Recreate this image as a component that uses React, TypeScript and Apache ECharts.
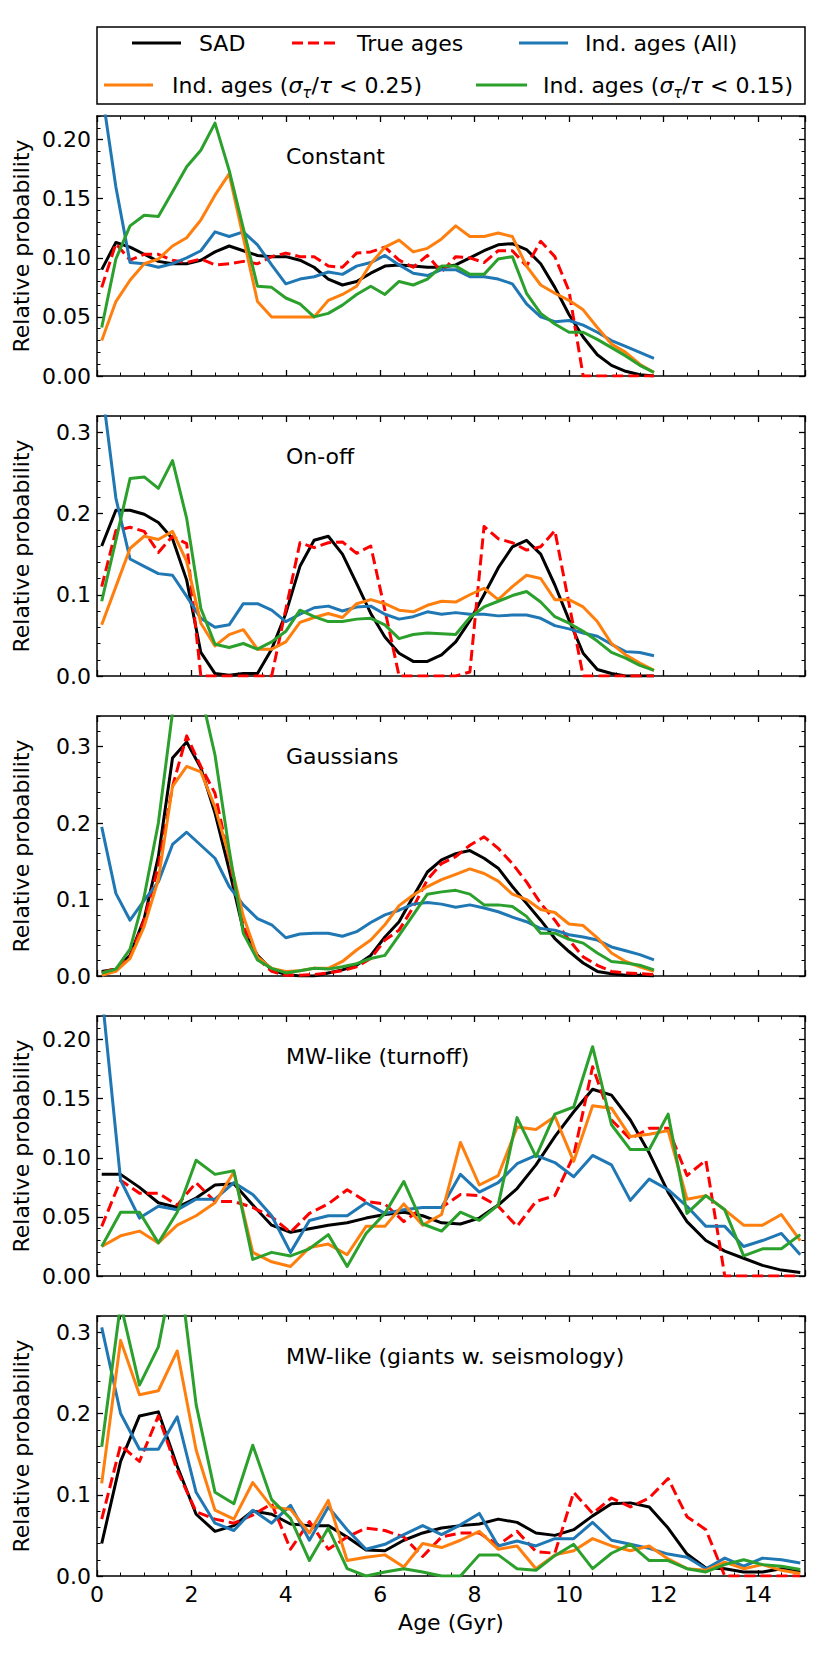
import React, { useEffect, useRef } from 'react';
import * as echarts from 'echarts';

const FONT = 'DejaVu Sans';

// Age grids (Gyr)
const AGE_SHORT = [0.1, 0.4, 0.7, 1.0, 1.3, 1.6, 1.9, 2.2, 2.5, 2.8, 3.1, 3.4, 3.7, 4.0, 4.3, 4.6, 4.9, 5.2, 5.5, 5.8, 6.1, 6.4, 6.7, 7.0, 7.3, 7.6, 7.9, 8.2, 8.5, 8.8, 9.1, 9.4, 9.7, 10.0, 10.3, 10.6, 10.9, 11.2, 11.5, 11.8];
const AGE_LONG = [0.1, 0.5, 0.9, 1.3, 1.7, 2.1, 2.5, 2.9, 3.3, 3.7, 4.1, 4.5, 4.9, 5.3, 5.7, 6.1, 6.5, 6.9, 7.3, 7.7, 8.1, 8.5, 8.9, 9.3, 9.7, 10.1, 10.5, 10.9, 11.3, 11.7, 12.1, 12.5, 12.9, 13.3, 13.7, 14.1, 14.5, 14.9];

// Panel 1: Constant
const SAD_1 = [0.090, 0.113, 0.109, 0.103, 0.097, 0.095, 0.095, 0.098, 0.105, 0.110, 0.106, 0.102, 0.101, 0.101, 0.098, 0.092, 0.082, 0.077, 0.080, 0.087, 0.093, 0.094, 0.093, 0.092, 0.092, 0.094, 0.100, 0.106, 0.111, 0.112, 0.107, 0.095, 0.075, 0.052, 0.033, 0.018, 0.009, 0.004, 0.001, 0.000];
const TRUE_1 = [0.075, 0.112, 0.098, 0.103, 0.103, 0.098, 0.096, 0.099, 0.094, 0.095, 0.097, 0.095, 0.101, 0.104, 0.101, 0.101, 0.093, 0.092, 0.104, 0.105, 0.109, 0.098, 0.092, 0.102, 0.088, 0.101, 0.100, 0.096, 0.106, 0.106, 0.093, 0.114, 0.101, 0.072, 0.000, 0.000, 0.000, 0.000, 0.000, 0.000];
const ALL_1 = [0.242, 0.160, 0.096, 0.095, 0.092, 0.095, 0.100, 0.106, 0.122, 0.118, 0.122, 0.111, 0.094, 0.078, 0.082, 0.084, 0.088, 0.086, 0.093, 0.096, 0.102, 0.094, 0.087, 0.085, 0.090, 0.090, 0.084, 0.084, 0.082, 0.078, 0.061, 0.050, 0.046, 0.047, 0.043, 0.037, 0.030, 0.025, 0.020, 0.015];
const Q25_1 = [0.030, 0.063, 0.081, 0.095, 0.099, 0.110, 0.117, 0.132, 0.153, 0.171, 0.117, 0.063, 0.050, 0.050, 0.050, 0.050, 0.064, 0.069, 0.076, 0.095, 0.109, 0.115, 0.105, 0.108, 0.116, 0.127, 0.118, 0.118, 0.121, 0.118, 0.093, 0.077, 0.070, 0.064, 0.056, 0.041, 0.027, 0.020, 0.010, 0.003];
const Q15_1 = [0.041, 0.099, 0.127, 0.136, 0.135, 0.156, 0.177, 0.191, 0.214, 0.174, 0.125, 0.076, 0.075, 0.066, 0.061, 0.050, 0.053, 0.060, 0.069, 0.076, 0.069, 0.080, 0.077, 0.082, 0.093, 0.093, 0.086, 0.086, 0.099, 0.101, 0.070, 0.053, 0.044, 0.037, 0.037, 0.031, 0.024, 0.017, 0.009, 0.003];

// Panel 2: On-off
const SAD_2 = [0.160, 0.204, 0.204, 0.199, 0.189, 0.169, 0.118, 0.029, 0.003, 0.001, 0.003, 0.003, 0.033, 0.077, 0.135, 0.167, 0.172, 0.150, 0.114, 0.077, 0.048, 0.028, 0.018, 0.018, 0.026, 0.042, 0.068, 0.100, 0.133, 0.159, 0.167, 0.150, 0.112, 0.069, 0.028, 0.008, 0.003, 0.000, 0.000, 0.000];
const TRUE_2 = [0.110, 0.179, 0.183, 0.178, 0.152, 0.172, 0.163, 0.000, 0.000, 0.000, 0.000, 0.000, 0.000, 0.082, 0.164, 0.158, 0.164, 0.165, 0.151, 0.160, 0.081, 0.000, 0.000, 0.000, 0.000, 0.000, 0.005, 0.184, 0.169, 0.164, 0.155, 0.159, 0.179, 0.089, 0.000, 0.000, 0.000, 0.000, 0.000, 0.000];
const ALL_2 = [0.357, 0.219, 0.144, 0.135, 0.126, 0.124, 0.098, 0.071, 0.060, 0.063, 0.089, 0.089, 0.081, 0.067, 0.076, 0.084, 0.086, 0.080, 0.085, 0.086, 0.076, 0.070, 0.073, 0.079, 0.076, 0.078, 0.076, 0.076, 0.074, 0.075, 0.075, 0.071, 0.062, 0.058, 0.053, 0.049, 0.039, 0.030, 0.029, 0.025];
const Q25_2 = [0.063, 0.110, 0.157, 0.172, 0.168, 0.178, 0.141, 0.065, 0.037, 0.051, 0.057, 0.033, 0.033, 0.042, 0.066, 0.072, 0.077, 0.072, 0.089, 0.094, 0.089, 0.081, 0.079, 0.087, 0.092, 0.091, 0.100, 0.108, 0.094, 0.110, 0.124, 0.120, 0.094, 0.094, 0.085, 0.067, 0.040, 0.026, 0.016, 0.007];
const Q15_2 = [0.092, 0.167, 0.243, 0.245, 0.231, 0.265, 0.194, 0.083, 0.039, 0.035, 0.040, 0.033, 0.042, 0.055, 0.081, 0.073, 0.067, 0.067, 0.070, 0.071, 0.063, 0.046, 0.051, 0.053, 0.052, 0.051, 0.072, 0.085, 0.092, 0.099, 0.104, 0.091, 0.073, 0.065, 0.055, 0.043, 0.029, 0.022, 0.013, 0.007];

// Panel 3: Gaussians
const SAD_3 = [0.006, 0.009, 0.027, 0.075, 0.156, 0.285, 0.306, 0.272, 0.213, 0.139, 0.060, 0.027, 0.008, 0.002, 0.000, 0.000, 0.004, 0.008, 0.014, 0.027, 0.051, 0.071, 0.104, 0.136, 0.152, 0.160, 0.164, 0.154, 0.141, 0.117, 0.095, 0.073, 0.049, 0.032, 0.017, 0.006, 0.003, 0.001, 0.001, 0.000];
const TRUE_3 = [0.004, 0.010, 0.025, 0.073, 0.143, 0.248, 0.314, 0.274, 0.239, 0.152, 0.065, 0.023, 0.006, 0.001, 0.001, 0.002, 0.004, 0.007, 0.012, 0.023, 0.047, 0.060, 0.090, 0.126, 0.147, 0.156, 0.171, 0.182, 0.167, 0.147, 0.123, 0.095, 0.073, 0.047, 0.025, 0.014, 0.006, 0.004, 0.003, 0.002];
const ALL_3 = [0.195, 0.108, 0.073, 0.099, 0.123, 0.172, 0.188, 0.171, 0.154, 0.117, 0.093, 0.075, 0.067, 0.050, 0.055, 0.056, 0.056, 0.052, 0.058, 0.070, 0.080, 0.086, 0.094, 0.096, 0.094, 0.090, 0.093, 0.089, 0.084, 0.077, 0.071, 0.062, 0.060, 0.054, 0.051, 0.047, 0.038, 0.033, 0.028, 0.021];
const Q25_3 = [0.001, 0.006, 0.023, 0.065, 0.126, 0.248, 0.274, 0.267, 0.221, 0.156, 0.078, 0.025, 0.010, 0.006, 0.007, 0.010, 0.010, 0.019, 0.034, 0.047, 0.067, 0.092, 0.106, 0.117, 0.126, 0.133, 0.140, 0.134, 0.124, 0.107, 0.100, 0.087, 0.083, 0.068, 0.066, 0.050, 0.030, 0.019, 0.012, 0.006];
const Q15_3 = [0.004, 0.009, 0.035, 0.104, 0.200, 0.345, 0.420, 0.370, 0.289, 0.165, 0.056, 0.021, 0.010, 0.004, 0.007, 0.010, 0.009, 0.012, 0.016, 0.023, 0.027, 0.053, 0.080, 0.107, 0.110, 0.112, 0.107, 0.093, 0.093, 0.091, 0.078, 0.056, 0.056, 0.048, 0.043, 0.030, 0.019, 0.017, 0.014, 0.008];

// Panel 4: MW-like (turnoff)
const SAD_4 = [0.086, 0.086, 0.075, 0.062, 0.058, 0.066, 0.077, 0.078, 0.060, 0.043, 0.037, 0.040, 0.043, 0.045, 0.049, 0.052, 0.054, 0.051, 0.045, 0.044, 0.049, 0.060, 0.074, 0.094, 0.118, 0.139, 0.158, 0.153, 0.132, 0.104, 0.071, 0.046, 0.030, 0.021, 0.015, 0.009, 0.005, 0.003];
const TRUE_4 = [0.042, 0.081, 0.070, 0.070, 0.060, 0.079, 0.063, 0.063, 0.058, 0.050, 0.037, 0.053, 0.061, 0.073, 0.063, 0.061, 0.046, 0.058, 0.058, 0.069, 0.068, 0.059, 0.042, 0.063, 0.068, 0.102, 0.177, 0.132, 0.116, 0.125, 0.125, 0.085, 0.098, 0.000, 0.000, 0.000, 0.000, 0.000];
const ALL_4 = [0.240, 0.081, 0.049, 0.059, 0.056, 0.065, 0.065, 0.079, 0.069, 0.051, 0.020, 0.047, 0.051, 0.051, 0.062, 0.053, 0.056, 0.058, 0.058, 0.086, 0.071, 0.079, 0.095, 0.102, 0.096, 0.084, 0.102, 0.094, 0.064, 0.082, 0.073, 0.059, 0.042, 0.042, 0.025, 0.030, 0.036, 0.018];
const Q25_4 = [0.025, 0.034, 0.038, 0.028, 0.043, 0.051, 0.062, 0.088, 0.020, 0.012, 0.008, 0.024, 0.027, 0.018, 0.042, 0.042, 0.061, 0.043, 0.052, 0.113, 0.077, 0.085, 0.126, 0.124, 0.135, 0.097, 0.144, 0.142, 0.118, 0.120, 0.123, 0.065, 0.068, 0.056, 0.043, 0.043, 0.052, 0.030];
const Q15_4 = [0.025, 0.054, 0.054, 0.028, 0.054, 0.098, 0.086, 0.089, 0.014, 0.020, 0.017, 0.023, 0.035, 0.008, 0.036, 0.053, 0.080, 0.044, 0.038, 0.054, 0.047, 0.060, 0.134, 0.101, 0.137, 0.143, 0.194, 0.128, 0.107, 0.107, 0.137, 0.053, 0.068, 0.056, 0.017, 0.023, 0.023, 0.035];

// Panel 5: MW-like (giants w. seismology)
const SAD_5 = [0.040, 0.141, 0.197, 0.202, 0.135, 0.076, 0.055, 0.062, 0.080, 0.076, 0.064, 0.062, 0.062, 0.048, 0.032, 0.031, 0.044, 0.053, 0.059, 0.062, 0.064, 0.070, 0.066, 0.053, 0.050, 0.057, 0.074, 0.089, 0.090, 0.085, 0.059, 0.027, 0.010, 0.009, 0.005, 0.005, 0.009, 0.005];
const TRUE_5 = [0.070, 0.161, 0.141, 0.197, 0.130, 0.079, 0.070, 0.065, 0.075, 0.089, 0.033, 0.067, 0.033, 0.048, 0.059, 0.056, 0.048, 0.024, 0.048, 0.053, 0.053, 0.038, 0.055, 0.030, 0.028, 0.103, 0.077, 0.096, 0.085, 0.096, 0.120, 0.073, 0.057, 0.000, 0.000, 0.000, 0.000, 0.000];
const ALL_5 = [0.306, 0.200, 0.156, 0.156, 0.196, 0.103, 0.065, 0.056, 0.081, 0.065, 0.087, 0.044, 0.085, 0.057, 0.033, 0.039, 0.051, 0.062, 0.051, 0.063, 0.077, 0.037, 0.043, 0.037, 0.046, 0.046, 0.066, 0.044, 0.039, 0.034, 0.027, 0.023, 0.009, 0.022, 0.012, 0.022, 0.020, 0.016];
const Q25_5 = [0.114, 0.290, 0.223, 0.228, 0.277, 0.155, 0.081, 0.070, 0.115, 0.085, 0.082, 0.053, 0.093, 0.019, 0.023, 0.026, 0.011, 0.040, 0.035, 0.044, 0.055, 0.033, 0.037, 0.009, 0.026, 0.031, 0.046, 0.037, 0.031, 0.037, 0.021, 0.009, 0.007, 0.017, 0.009, 0.014, 0.007, 0.003];
const Q15_5 = [0.159, 0.335, 0.235, 0.282, 0.400, 0.211, 0.103, 0.089, 0.161, 0.094, 0.071, 0.019, 0.059, 0.009, 0.000, 0.005, 0.009, 0.005, 0.000, 0.000, 0.026, 0.026, 0.009, 0.007, 0.025, 0.039, 0.009, 0.028, 0.039, 0.019, 0.019, 0.009, 0.005, 0.014, 0.020, 0.014, 0.012, 0.008];

const PANEL_TITLES = ['Constant', 'On-off', 'Gaussians', 'MW-like (turnoff)', 'MW-like (giants w. seismology)'];
const PANEL_AGES = [AGE_SHORT, AGE_SHORT, AGE_SHORT, AGE_LONG, AGE_LONG];
const PANEL_SERIES = [
  [SAD_1, TRUE_1, ALL_1, Q25_1, Q15_1],
  [SAD_2, TRUE_2, ALL_2, Q25_2, Q15_2],
  [SAD_3, TRUE_3, ALL_3, Q25_3, Q15_3],
  [SAD_4, TRUE_4, ALL_4, Q25_4, Q15_4],
  [SAD_5, TRUE_5, ALL_5, Q25_5, Q15_5],
];
const Y_MAX = [0.22, 0.32, 0.34, 0.22, 0.32];
const Y_STEP = [0.05, 0.1, 0.1, 0.05, 0.1];
const Y_MINOR = [0.01, 0.02, 0.02, 0.01, 0.02];
const Y_DECIMALS = [2, 1, 1, 2, 1];
const X_MAX = 15;
const X_STEP = 2;
const X_MINOR = 0.5;

const SERIES_NAMES = ['SAD', 'True ages', 'Ind. ages (All)', 'Ind. ages (σ/τ < 0.25)', 'Ind. ages (σ/τ < 0.15)'];
const SERIES_COLORS = ['#000000', '#ff0000', '#1f77b4', '#ff7f0e', '#2ca02c'];

// layout
const W = 830;
const H = 1661;
const PLOT_LEFT = 97;
const PLOT_W = 708;
const PANEL_TOP0 = 116;
const PANEL_STEP = 300;
const PANEL_H = 260;

export default function App() {
  const ref = useRef<HTMLDivElement>(null);

  useEffect(() => {
    document.body.style.margin = '0';
    if (!ref.current) return;
    const chart = echarts.init(ref.current, null, { renderer: 'svg' });

    const grids: any[] = [];
    const xAxes: any[] = [];
    const yAxes: any[] = [];
    const series: any[] = [];
    const graphics: any[] = [];

    const frameLine = { show: true, onZero: false, lineStyle: { color: '#000', width: 1.5 } };
    const noLine = { show: false, onZero: false };
    const majorTick = { show: true, inside: true, length: 6, lineStyle: { color: '#000', width: 1.3 } };
    const minorTickS = { show: true, inside: true, length: 3.5, lineStyle: { color: '#000', width: 1 } };

    for (let i = 0; i < 5; i++) {
      const top = PANEL_TOP0 + PANEL_STEP * i;
      grids.push({ left: PLOT_LEFT, top, width: PLOT_W, height: PANEL_H, containLabel: false });
      const xb = { gridIndex: i, type: 'value', min: 0, max: X_MAX, splitLine: { show: false } };
      xAxes.push({
        ...xb, position: 'bottom', interval: X_STEP, axisLine: frameLine, axisTick: majorTick,
        axisLabel: { show: i === 4, showMaxLabel: false, fontSize: 22, fontFamily: FONT, color: '#000', margin: 7 },
      });
      xAxes.push({ ...xb, position: 'bottom', interval: X_MINOR, axisLine: noLine, axisTick: minorTickS, axisLabel: { show: false } });
      xAxes.push({ ...xb, position: 'top', interval: X_STEP, axisLine: frameLine, axisTick: majorTick, axisLabel: { show: false } });
      xAxes.push({ ...xb, position: 'top', interval: X_MINOR, axisLine: noLine, axisTick: minorTickS, axisLabel: { show: false } });

      const yb = { gridIndex: i, type: 'value', min: 0, max: Y_MAX[i], splitLine: { show: false } };
      const dec = Y_DECIMALS[i];
      yAxes.push({
        ...yb, position: 'left', interval: Y_STEP[i], axisLine: frameLine, axisTick: majorTick,
        axisLabel: {
          show: true, showMaxLabel: false, fontSize: 22, fontFamily: FONT, color: '#000', margin: 6,
          formatter: (v: number) => v.toFixed(dec),
        },
      });
      yAxes.push({ ...yb, position: 'left', interval: Y_MINOR[i], axisLine: noLine, axisTick: minorTickS, axisLabel: { show: false } });
      yAxes.push({ ...yb, position: 'right', interval: Y_STEP[i], axisLine: frameLine, axisTick: majorTick, axisLabel: { show: false } });
      yAxes.push({ ...yb, position: 'right', interval: Y_MINOR[i], axisLine: noLine, axisTick: minorTickS, axisLabel: { show: false } });

      const ages = PANEL_AGES[i];
      PANEL_SERIES[i].forEach((vals, s) => {
        series.push({
          type: 'line',
          name: SERIES_NAMES[s],
          xAxisIndex: i * 4,
          yAxisIndex: i * 4,
          data: ages.map((a, k) => [a, vals[k]]),
          symbol: 'none',
          showSymbol: false,
          clip: true,
          silent: true,
          animation: false,
          lineStyle: {
            color: SERIES_COLORS[s],
            width: 3,
            type: s === 1 ? [11, 5] : 'solid',
            join: 'round',
          },
          itemStyle: { color: SERIES_COLORS[s] },
          emphasis: { disabled: true },
        });
      });

      // panel title
      graphics.push({
        type: 'text', x: 286, y: top + 40, z: 50,
        style: { text: PANEL_TITLES[i], fontSize: 22, fontFamily: FONT, fill: '#000', align: 'left', verticalAlign: 'middle', textAlign: 'left', textVerticalAlign: 'middle' },
      });
      // y axis title
      graphics.push({
        type: 'text', x: 21, y: top + PANEL_H / 2, rotation: Math.PI / 2, z: 50,
        style: { text: 'Relative probability', fontSize: 22, fontFamily: FONT, fill: '#000', align: 'center', verticalAlign: 'middle', textAlign: 'center', textVerticalAlign: 'middle' },
      });
    }

    // x axis title
    graphics.push({
      type: 'text', x: PLOT_LEFT + PLOT_W / 2, y: 1622, z: 50,
      style: { text: 'Age (Gyr)', fontSize: 22, fontFamily: FONT, fill: '#000', align: 'center', verticalAlign: 'middle', textAlign: 'center', textVerticalAlign: 'middle' },
    });

    // legend
    graphics.push({
      type: 'rect', z: 40,
      shape: { x: 97, y: 27, width: 708, height: 77 },
      style: { fill: '#fff', stroke: '#000', lineWidth: 1.5 },
    });
    const legendItems = [
      { s: 0, x1: 132, x2: 181, tx: 199, y: 43 },
      { s: 1, x1: 292, x2: 339, tx: 357, y: 43 },
      { s: 2, x1: 519, x2: 568, tx: 585, y: 43 },
      { s: 3, x1: 104, x2: 153, tx: 172, y: 85 },
      { s: 4, x1: 476, x2: 527, tx: 543, y: 85 },
    ];
    const rich = {
      a: { fontSize: 22, fontFamily: FONT, fill: '#000', lineHeight: 30, verticalAlign: 'middle' },
      i: { fontSize: 22, fontFamily: FONT, fontStyle: 'italic', fill: '#000', lineHeight: 30, verticalAlign: 'middle' },
      s: { fontSize: 15, fontFamily: FONT, fontStyle: 'italic', fill: '#000', lineHeight: 16, verticalAlign: 'bottom' },
    };
    legendItems.forEach((it) => {
      graphics.push({
        type: 'line', z: 41,
        shape: { x1: it.x1, y1: it.y, x2: it.x2, y2: it.y },
        style: { stroke: SERIES_COLORS[it.s], lineWidth: 3, lineDash: it.s === 1 ? [11, 5] : null },
      });
      let text = '';
      if (it.s < 3) {
        text = '{a|' + SERIES_NAMES[it.s] + '}';
      } else {
        const thr = it.s === 3 ? '0.25' : '0.15';
        text = '{a|Ind. ages (}{i|σ}{s|τ}{a|/}{i|τ}{a| < ' + thr + ')}';
      }
      graphics.push({
        type: 'text', x: it.tx, y: it.y, z: 41,
        style: { text, rich, fontSize: 22, fontFamily: FONT, fill: '#000', align: 'left', verticalAlign: 'middle', textAlign: 'left', textVerticalAlign: 'middle' },
      });
    });

    chart.setOption({
      animation: false,
      backgroundColor: '#fff',
      grid: grids,
      xAxis: xAxes,
      yAxis: yAxes,
      series,
      graphic: { elements: graphics },
    });

    return () => {
      chart.dispose();
    };
  }, []);

  return <div ref={ref} style={{ width: W, height: H, position: 'absolute', left: 0, top: 0 }} />;
}
